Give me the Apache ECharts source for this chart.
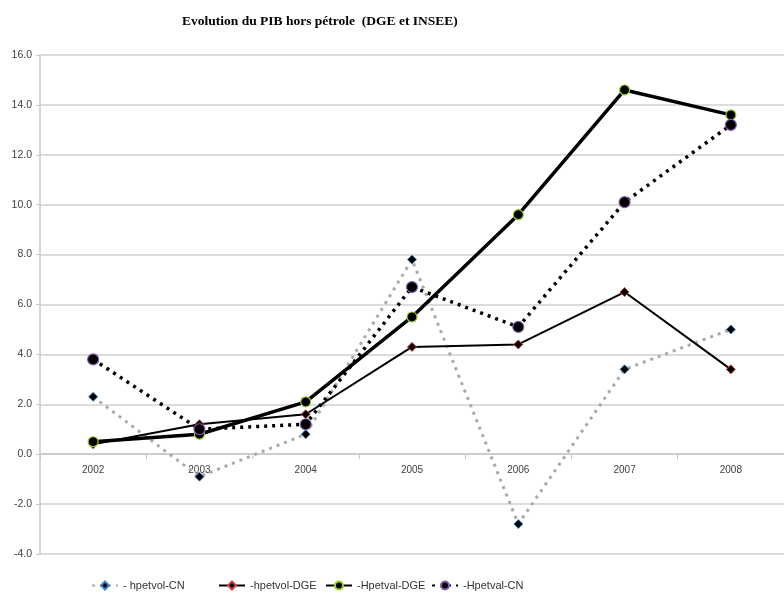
<!DOCTYPE html>
<html>
<head>
<meta charset="utf-8">
<script src="https://cdn.jsdelivr.net/npm/echarts@6/dist/echarts.min.js"></script>
<style>
  html, body { margin: 0; padding: 0; background: #fff; }
  #chart { width: 784px; height: 597px; }
</style>
</head>
<body>
<div id="chart"></div>
<script>
// données
const years = ['2002', '2003', '2004', '2005', '2006', '2007', '2008'];
const hpetvolCN = [2.3, -0.9, 0.8, 7.8, -2.8, 3.4, 5.0];
const hpetvolDGE = [0.4, 1.2, 1.6, 4.3, 4.4, 6.5, 3.4];
const HpetvalDGE = [0.5, 0.8, 2.1, 5.5, 9.6, 14.6, 13.6];
const HpetvalCN = [3.8, 1.0, 1.2, 6.7, 5.1, 10.1, 13.2];
const seriesNames = ['- hpetvol-CN', '-hpetvol-DGE', '-Hpetval-DGE', '-Hpetval-CN'];

const chart = echarts.init(document.getElementById('chart'));

const labelFont = 'Liberation Sans Narrow, Liberation Sans, sans-serif';

// une légende par série pour placer chaque item
const legendLeft = [91, 218, 325, 431];
const legends = seriesNames.map((name, i) => ({
    data: [name],
    left: legendLeft[i],
    top: 580,
    padding: 0,
    itemWidth: 26,
    itemHeight: 10,
    itemGap: 4,
    textStyle: { fontSize: 11, color: '#333', fontFamily: labelFont }
}));

const option = {
    backgroundColor: '#fff',
    animation: false,
    title: {
        text: 'Evolution du PIB hors pétrole  (DGE et INSEE)',
        left: 177,
        top: 10,
        textStyle: {
            fontFamily: 'Liberation Serif, serif',
            fontWeight: 'bold',
            fontSize: 13.5,
            color: '#000'
        }
    },
    legend: legends,
    grid: { left: 40, right: -10, top: 55, bottom: 43 },
    xAxis: {
        type: 'category',
        data: years,
        boundaryGap: true,
        axisLine: { onZero: true, lineStyle: { color: '#c8c8c8', width: 1.5 } },
        axisTick: { show: true, length: 5, lineStyle: { color: '#c8c8c8' } },
        // étiquettes juste sous la ligne du zéro
        axisLabel: { margin: -89, fontSize: 10, color: '#404040', fontFamily: labelFont }
    },
    yAxis: {
        type: 'value',
        min: -4,
        max: 16,
        interval: 2,
        axisLine: { show: true, lineStyle: { color: '#c8c8c8', width: 1.5 } },
        axisTick: { show: true, length: 4, lineStyle: { color: '#c8c8c8' } },
        axisLabel: {
            fontSize: 10.5,
            color: '#404040',
            margin: 8,
            fontFamily: labelFont,
            formatter: v => v.toFixed(1)
        },
        splitLine: { lineStyle: { color: '#d0d0d0', width: 1.5 } }
    },
    series: [
        {
            name: seriesNames[0],
            type: 'line',
            data: hpetvolCN,
            symbol: 'diamond',
            symbolSize: 9,
            itemStyle: { color: '#000', borderColor: '#3a86c8', borderWidth: 1 },
            lineStyle: { color: '#aaa', width: 3, type: [3, 5] },
            z: 2
        },
        {
            name: seriesNames[1],
            type: 'line',
            data: hpetvolDGE,
            symbol: 'diamond',
            symbolSize: 9,
            itemStyle: { color: '#000', borderColor: '#d04040', borderWidth: 1 },
            lineStyle: { color: '#000', width: 2 },
            z: 3
        },
        {
            name: seriesNames[2],
            type: 'line',
            data: HpetvalDGE,
            symbol: 'circle',
            symbolSize: 10,
            itemStyle: { color: '#000', borderColor: '#9acd32', borderWidth: 1.2 },
            lineStyle: { color: '#000', width: 3.5 },
            z: 4
        },
        {
            name: seriesNames[3],
            type: 'line',
            data: HpetvalCN,
            symbol: 'circle',
            symbolSize: 11,
            itemStyle: { color: '#000', borderColor: '#8a5cb0', borderWidth: 1.2 },
            lineStyle: { color: '#000', width: 3.5, type: [3, 5] },
            z: 5
        }
    ]
};

chart.setOption(option);
</script>
</body>
</html>
